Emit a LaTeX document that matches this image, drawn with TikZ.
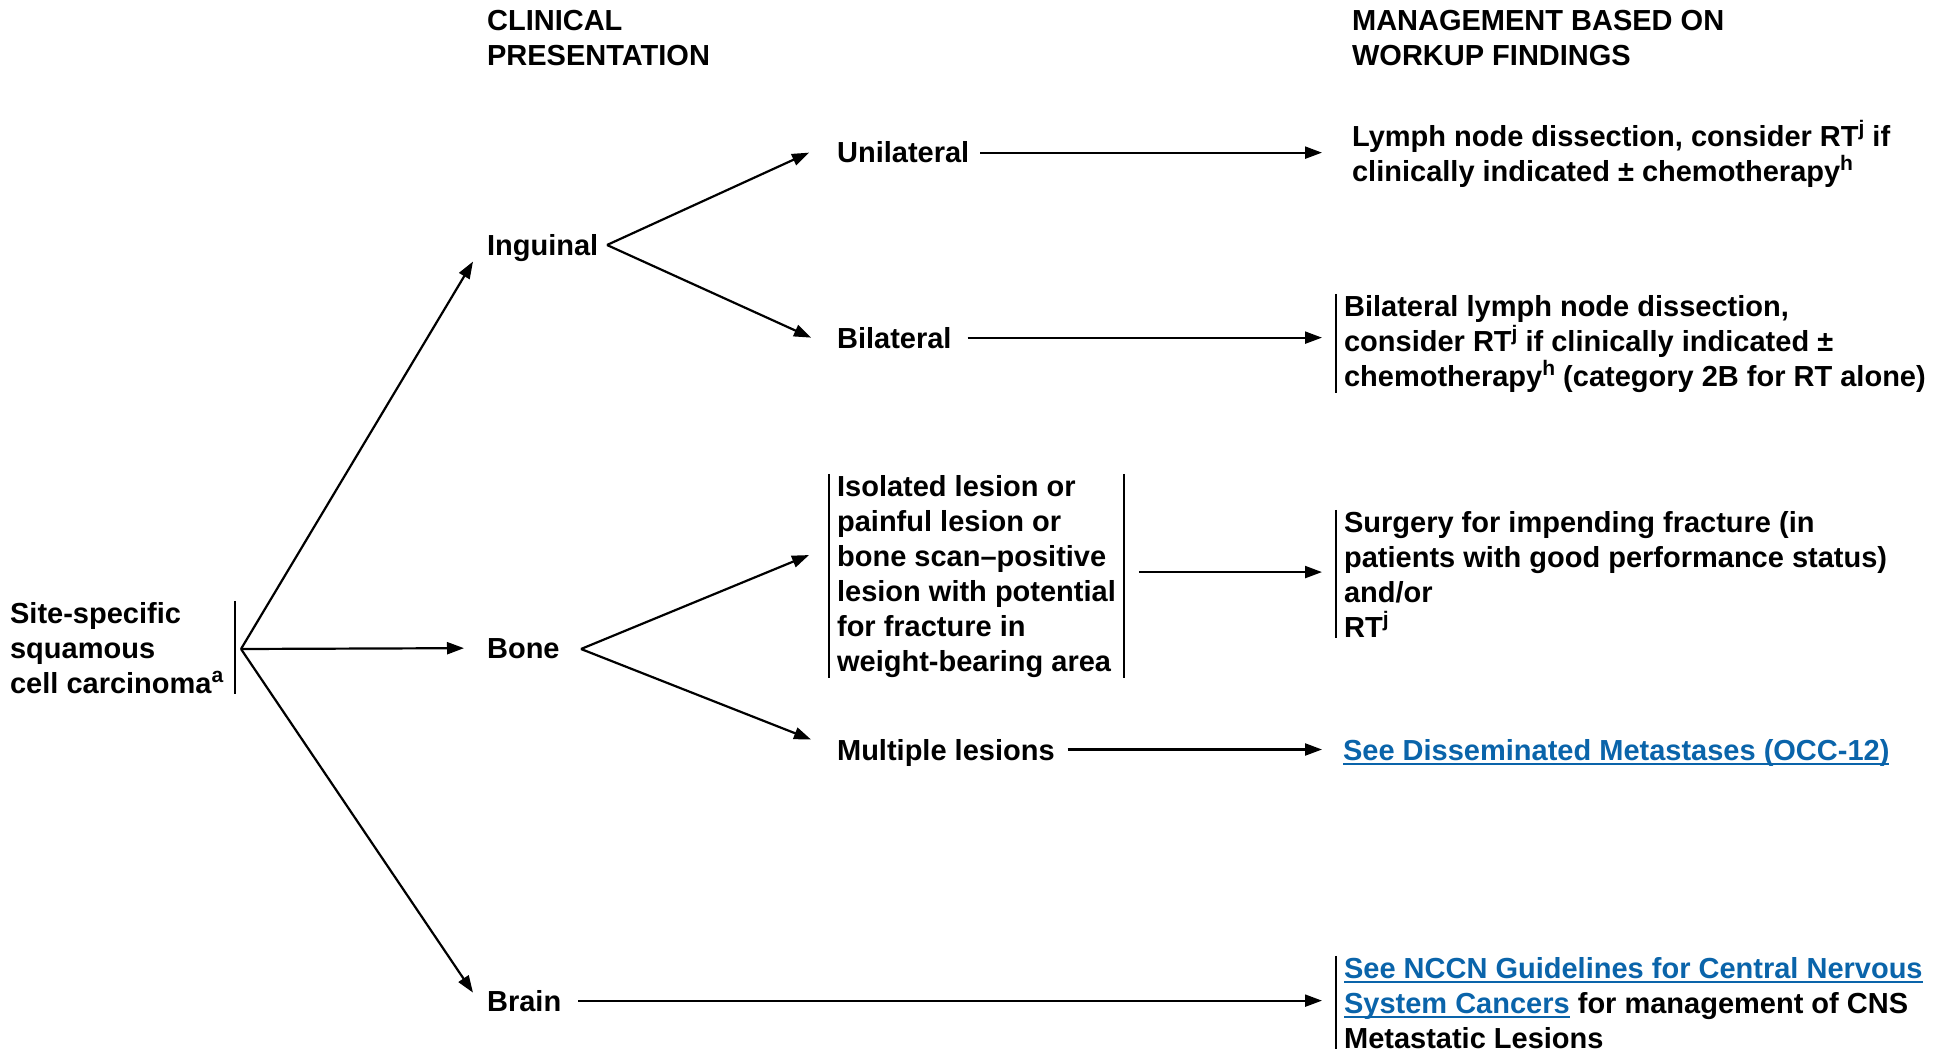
\documentclass[tikz,border=0pt]{standalone}
\usepackage{fontspec}
\setmainfont{Liberation Sans}
\usepackage{xcolor}
\usetikzlibrary{arrows.meta}

\definecolor{linkblue}{RGB}{10,100,170}
\newsavebox{\lnkbox}
\newcommand{\lnk}[1]{\sbox{\lnkbox}{\textcolor{linkblue}{#1}}%
  \rlap{\usebox{\lnkbox}}\textcolor{linkblue}{\rule[-5.2pt]{\wd\lnkbox}{2.2pt}}}
\newcommand{\sups}[1]{\raisebox{11pt}{\fontsize{21}{21}\selectfont #1}}

\begin{document}
\begin{tikzpicture}[x=1pt,y=-1pt,
  entry/.style={inner sep=0pt, align=left, anchor=base west,
    font=\bfseries\fontsize{29}{35}\selectfont},
  bar/.style={line width=2pt},
  ->,>={Triangle[length=17pt,width=12pt]},line width=2.2pt
]
\useasboundingbox (0,0) rectangle (1955,1051);

% multi-line entries sit on the baseline of their last line
\node[entry] (clin) at (486,66) {CLINICAL\\PRESENTATION};
\node[entry] (mgmt) at (1351,66) {MANAGEMENT BASED ON\\WORKUP FINDINGS};
\node[entry] (site) at (9,693) {Site-specific\\squamous\\cell carcinoma\sups{a}};
\node[entry] (ing) at (486,255) {Inguinal};
\node[entry] (bone) at (486,658) {Bone};
\node[entry] (brain) at (486,1011) {Brain};
\node[entry] (uni) at (836,163) {Unilateral};
\node[entry] (bil) at (836,348) {Bilateral};
\node[entry] (iso) at (836,671) {Isolated lesion or\\painful lesion or\\bone scan–positive\\lesion with potential\\for fracture in\\weight-bearing area};
\node[entry] (mult) at (836,760) {Multiple lesions};
\node[entry] (lnd) at (1351,182) {Lymph node dissection, consider RT\sups{j} if\\clinically indicated ± chemotherapy\sups{h}};
\node[entry] (blnd) at (1343,386) {Bilateral lymph node dissection,\\consider RT\sups{j} if clinically indicated ±\\chemotherapy\sups{h} (category 2B for RT alone)};
\node[entry] (surg) at (1343,637) {Surgery for impending fracture (in\\patients with good performance status)\\and/or\\RT\sups{j}};
\node[entry] (dis) at (1342,760) {\lnk{See Disseminated Metastases (OCC-12)}};
\node[entry] (cns) at (1343,1048) {\lnk{See NCCN Guidelines for Central Nervous}\\\lnk{System Cancers} for management of CNS\\Metastatic Lesions};

\coordinate (root) at (241,649);
\coordinate (ingfork) at (607,245);
\coordinate (bonefork) at (581,649);

% bars
\draw[bar,-] ([xshift=11pt]site.north east) -- ([xshift=11pt]site.south east);
\draw[bar,-] ([xshift=-7pt]blnd.north west) -- ([xshift=-7pt]blnd.south west);
\draw[bar,-] ([xshift=-7pt]iso.north west) -- ([xshift=-7pt]iso.south west);
\draw[bar,-] ([xshift=7pt]iso.north east) -- ([xshift=7pt]iso.south east);
\draw[bar,-] ([xshift=-7pt]surg.north west) -- ([xshift=-7pt]surg.south west);
\draw[bar,-] ([xshift=-7pt]cns.north west) -- ([xshift=-7pt]cns.south west);

\draw (root) -- ([xshift=-13pt,yshift=-14pt]ing.west);
\draw (root) -- ([xshift=-22pt]bone.west);
\draw (root) -- ([xshift=-13pt,yshift=8pt]brain.west);

\draw (ingfork) -- ([xshift=-27pt]uni.west);
\draw (ingfork) -- ([xshift=-25pt]bil.west);
\draw (bonefork) -- ([xshift=-27pt,yshift=21pt]iso.west);
\draw (bonefork) -- ([xshift=-25pt,yshift=13pt]mult.west);

\draw ([xshift=10pt]uni.east) -- ([xshift=-29pt]uni.east -| lnd.west);
\draw ([xshift=15pt]bil.east) -- ([xshift=-21pt]bil.east -| blnd.west);
\draw ([xshift=22pt,yshift=4pt]iso.east) -- ([xshift=-21pt,yshift=4pt]iso.east -| surg.west);
\draw ([xshift=12pt,yshift=3pt]mult.east) -- ([xshift=-20pt,yshift=3pt]mult.east -| dis.west);
\draw ([xshift=16pt]brain.east) -- ([xshift=-21pt]brain.east -| cns.west);
\end{tikzpicture}
\end{document}
